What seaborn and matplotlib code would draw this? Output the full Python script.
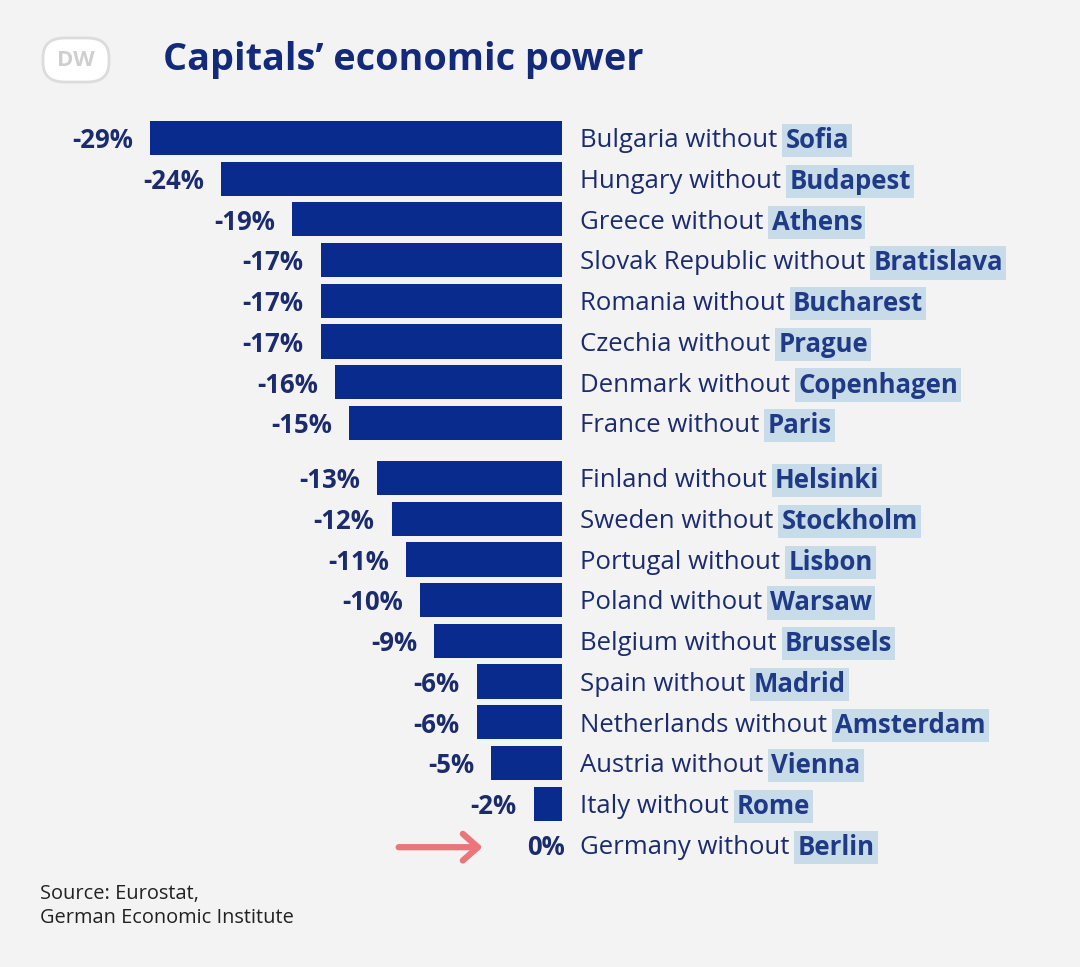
import matplotlib.pyplot as plt
import matplotlib.patches as mpatches
import pandas as pd
import seaborn as sns

countries = ["Bulgaria", "Hungary", "Greece", "Slovak Republic", "Romania", "Czechia",
             "Denmark", "France", "Finland", "Sweden", "Portugal", "Poland", "Belgium",
             "Spain", "Netherlands", "Austria", "Italy", "Germany"]
capitals = ["Sofia", "Budapest", "Athens", "Bratislava", "Bucharest", "Prague",
            "Copenhagen", "Paris", "Helsinki", "Stockholm", "Lisbon", "Warsaw", "Brussels",
            "Madrid", "Amsterdam", "Vienna", "Rome", "Berlin"]
values = [-29, -24, -19, -17, -17, -17, -16, -15, -13, -12, -11, -10, -9, -6, -6, -5, -2, 0]

BG = "#f4f3f4"
BAR = "#0a2b8e"
NAVY = "#1b2c6e"
CAP = "#1f3a86"
HL = "#c8dbe9"
FS = 18.5

# small extra gap after the first eight rows
pos = [i + (0.355 if i >= 8 else 0) for i in range(len(values))]
df = pd.DataFrame({"country": countries, "capital": capitals, "value": values, "pos": pos})

sns.set_theme(style="white")
plt.rcParams["font.family"] = ["Open Sans", "DejaVu Sans"]

fig = plt.figure(figsize=(10.8, 9.67), dpi=100, facecolor=BG)
ax = fig.add_axes([0, 0, 1, 1])
ax.set_facecolor(BG)

sns.barplot(data=df, x="value", y="pos", orient="h", native_scale=True,
            color=BAR, width=0.84, saturation=1, linewidth=0, ax=ax)

px = 14.2  # pixels per percent
ax.set_xlim(-562 / px, (1080 - 562) / px)
ax.set_ylim((967 - 138) / 40.7, -138 / 40.7)
ax.axis("off")

dy = 0.07  # text sits a touch lower than bar centre
for _, r in df.iterrows():
    lx = r["value"] - 1.2 if r["value"] != 0 else 0.2
    ax.text(lx, r["pos"] + dy, f"{r['value']}%", ha="right", va="center",
            fontsize=FS, fontweight="bold", color=NAVY)
    t = ax.text(1.27, r["pos"] + dy, f"{r['country']} without ", ha="left", va="center",
                fontsize=FS, color=NAVY)
    ax.annotate(r["capital"], xy=(1, 0.5), xycoords=t, xytext=(1, 0),
                textcoords="offset points", ha="left", va="center",
                fontsize=FS, fontweight="bold", color=CAP,
                bbox=dict(boxstyle="square,pad=0.12", fc=HL, ec="none"))

# arrow pointing at Germany
ax.annotate("", xy=(-5.4, pos[-1] + dy), xytext=(-11.7, pos[-1] + dy),
            arrowprops=dict(arrowstyle="->,head_length=0.9,head_width=0.8",
                            color="#e8767a", lw=4.5))

fig.text(163 / 1080, 1 - 60 / 967, "Capitals\u2019 economic power", ha="left", va="center",
         fontsize=27.2, fontweight="bold", color="#13297a")

# DW logo
logo = mpatches.FancyBboxPatch((43 / 1080, 1 - 82 / 967), 66 / 1080, 44 / 967,
                               boxstyle="round,pad=0,rounding_size=0.02",
                               transform=fig.transFigure, fc="white", ec="#dcdcdc", lw=2)
fig.patches.append(logo)
fig.text(76 / 1080, 1 - 60 / 967, "DW", ha="center", va="center", fontsize=16,
         fontweight="bold", color="#cfcfcf")

fig.text(40 / 1080, 1 - 894 / 967, "Source: Eurostat,", ha="left", va="center",
         fontsize=14.4, color="#222222")
fig.text(40 / 1080, 1 - 918 / 967, "German Economic Institute", ha="left", va="center",
         fontsize=14.4, color="#222222")

fig.savefig("out.png", dpi=100, facecolor=BG)
